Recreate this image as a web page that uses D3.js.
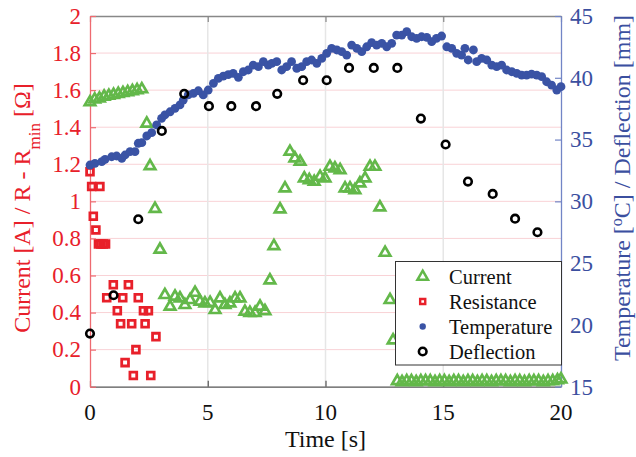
<!DOCTYPE html>
<html>
<head>
<meta charset="utf-8">
<script src="https://cdn.jsdelivr.net/npm/d3@7"></script>
<style>body{margin:0}</style>
</head>
<body>
<svg id="chart" width="636" height="457"></svg>
<script>
// ---- Data ----------------------------------------------------------------
const currentTime = [0.00, 0.20, 0.40, 0.60, 0.80, 1.00, 1.20, 1.40, 1.60, 1.80, 2.00, 2.20,
  2.41, 2.55, 2.76, 2.97, 3.18, 3.40, 3.61, 3.82, 4.03, 4.25, 4.46, 4.67, 4.88, 5.10,
  5.31, 5.52, 5.73, 5.94, 6.16, 6.37, 6.58, 6.79, 7.01, 7.22, 7.43, 7.64, 7.81, 8.07,
  8.28, 8.49, 8.70, 8.92, 9.10, 9.31, 9.52, 9.77, 9.98, 10.19, 10.40, 10.62, 10.83,
  11.04, 11.25, 11.46, 11.68, 11.89, 12.10, 12.31, 12.53, 12.74, 12.87,
  13.05, 13.25, 13.45, 13.65, 13.85, 14.05, 14.25, 14.45, 14.65, 14.85, 15.05, 15.25,
  15.45, 15.65, 15.85, 16.05, 16.25, 16.45, 16.65, 16.85, 17.05, 17.25, 17.45, 17.65,
  17.85, 18.05, 18.25, 18.45, 18.65, 18.85, 19.05, 19.25, 19.45, 19.65, 19.85, 20.00];
const currentValue = [1.535, 1.55, 1.555, 1.565, 1.57, 1.575, 1.58, 1.585, 1.59, 1.595, 1.60, 1.605,
  1.42, 1.19, 0.96, 0.74, 0.495, 0.432, 0.486, 0.477, 0.441, 0.468, 0.507, 0.459, 0.450, 0.453,
  0.414, 0.477, 0.441, 0.450, 0.477, 0.477, 0.405, 0.399, 0.399, 0.432, 0.408, 0.574, 0.759, 0.957,
  1.070, 1.268, 1.232, 1.214, 1.124, 1.115, 1.106, 1.133, 1.124, 1.187, 1.178, 1.169, 1.070,
  1.070, 1.061, 1.097, 1.124, 1.187, 1.187, 0.968, 0.723, 0.468, 0.25,
  0.03, 0.025, 0.03, 0.03, 0.025, 0.03, 0.03, 0.03, 0.025, 0.03, 0.03, 0.025,
  0.03, 0.03, 0.025, 0.03, 0.03, 0.025, 0.03, 0.03, 0.025, 0.03, 0.03, 0.03,
  0.025, 0.03, 0.03, 0.025, 0.03, 0.03, 0.03, 0.025, 0.03, 0.03, 0.035, 0.04];

const resistanceTime = [0.00, 0.07, 0.42, 0.14, 0.25, 0.36, 0.46, 0.56, 0.66, 0.99, 1.63,
  0.71, 1.39, 2.05, 1.16, 2.27, 2.48, 1.30, 1.77, 2.34, 2.80, 1.95, 1.49, 1.84, 2.58];
const resistanceValue = [1.16, 1.08, 1.08, 0.92, 0.845, 0.77, 0.77, 0.77, 0.77, 0.55, 0.55,
  0.48, 0.48, 0.48, 0.41, 0.41, 0.41, 0.34, 0.34, 0.34, 0.27, 0.20, 0.13, 0.06, 0.06];

const temperatureTime = [0.00, 0.21, 0.50, 0.64, 0.92, 1.13, 1.35, 1.49, 1.70, 1.91, 2.05, 2.20,
  2.41, 2.62, 2.83, 3.04, 3.18, 3.40, 3.61, 3.82, 3.96, 4.17, 4.39, 4.60, 4.81, 5.02,
  5.24, 5.45, 5.66, 5.87, 6.08, 6.30, 6.51, 6.72, 6.93, 7.15, 7.36, 7.57, 7.72, 7.93,
  8.14, 8.35, 8.56, 8.78, 8.99, 9.20, 9.41, 9.63, 9.84, 10.05, 10.26, 10.48, 10.69,
  10.90, 11.11, 11.33, 11.54, 11.75, 11.96, 12.17, 12.39, 12.60, 12.81, 13.02, 13.24,
  13.45, 13.66, 13.87, 14.08, 14.30, 14.51, 14.71, 14.93, 15.15, 15.36, 15.57, 15.78,
  15.92, 16.06, 16.28, 16.42, 16.63, 16.85, 17.06, 17.27, 17.48, 17.69, 17.91, 18.12,
  18.33, 18.54, 18.75, 18.97, 19.18, 19.39, 19.60, 19.82, 20.00];
const temperatureValue = [32.94, 33.08, 33.21, 33.40, 33.61, 33.67, 33.48, 33.75, 34.02, 34.02, 34.70, 34.75,
  35.29, 35.56, 36.18, 36.72, 36.99, 37.25, 37.53, 37.80, 38.20, 38.61, 38.74, 38.95, 38.61, 39.01,
  39.55, 39.96, 40.14, 40.25, 40.36, 40.04, 40.49, 40.63, 41.03, 40.90, 41.30, 41.03, 41.17, 41.30,
  40.63, 40.90, 41.30, 40.77, 40.90, 41.30, 41.44, 41.17, 41.57, 41.98, 42.38, 42.25, 42.11,
  41.84, 42.65, 42.38, 42.11, 42.51, 42.84, 42.65, 42.79, 42.51, 42.79, 43.46, 43.46,
  43.73, 43.32, 43.19, 43.32, 43.27, 42.92, 43.19, 43.38, 42.51, 42.38, 41.98, 41.84,
  42.38, 41.44, 42.25, 41.30, 41.57, 41.44, 41.03, 40.90, 41.03, 40.63, 40.49, 40.36,
  40.22, 40.22, 40.30, 40.22, 40.09, 39.68, 39.41, 39.01, 39.28];

const deflectionTime = [0.00, 1.00, 2.05, 3.05, 4.00, 5.05, 6.00, 7.05, 7.95, 9.05,
  10.05, 11.00, 12.05, 13.05, 14.05, 15.10, 16.05, 17.10, 18.05, 19.00];
const deflectionValue = [19.3, 22.4, 28.55, 35.7, 38.7, 37.7, 37.7, 37.7, 38.7, 39.8,
  39.8, 40.8, 40.8, 40.8, 36.7, 34.6, 31.6, 30.6, 28.6, 27.5];

const timeTicks = [0, 5, 10, 15, 20];
const leftTicks = [0, 0.2, 0.4, 0.6, 0.8, 1, 1.2, 1.4, 1.6, 1.8, 2];
const leftTickLabels = ["0", "0.2", "0.4", "0.6", "0.8", "1", "1.2", "1.4", "1.6", "1.8", "2"];
const rightTicks = [15, 20, 25, 30, 35, 40, 45];
const seriesNames = ["Current", "Resistance", "Temperature", "Deflection"];

// ---- Layout & colours ----------------------------------------------------
const plot = { left: 90, right: 561, top: 16, bottom: 386.7 };
const FONT = '"Liberation Serif", Tinos, serif';
const col = {
  red: "#e8202a", redAxis: "#ee6a70", pink: "#f9d2d6",
  blue: "#3b4f9f", blueAxis: "#7285c6", dot: "#3a53a5",
  green: "#63b84a", grid: "#e6e6e6"
};

const svg = d3.select("#chart");
const x = d3.scaleLinear().domain([0, 20]).range([plot.left, plot.right]);
const yL = d3.scaleLinear().domain([0, 2]).range([plot.bottom, plot.top]);
const yR = d3.scaleLinear().domain([15, 45]).range([plot.bottom, plot.top]);

// ---- Grid ----------------------------------------------------------------
svg.append("g").selectAll("line").data(leftTicks.slice(1, -1)).join("line")
  .attr("x1", plot.left).attr("x2", plot.right)
  .attr("y1", d => yL(d)).attr("y2", d => yL(d))
  .attr("stroke", col.pink).attr("stroke-width", 1);
svg.append("g").selectAll("line").data(timeTicks.slice(1, -1)).join("line")
  .attr("x1", d => x(d)).attr("x2", d => x(d))
  .attr("y1", plot.top).attr("y2", plot.bottom)
  .attr("stroke", col.grid).attr("stroke-width", 1.5);

// ---- Axes (lines and ticks only; labels drawn below) ----------------------
function styleAxis(g, lineColor) {
  g.select(".domain").attr("stroke", lineColor).attr("stroke-width", 1.3);
  g.selectAll(".tick line").attr("stroke", lineColor).attr("stroke-width", 1.2);
  g.selectAll(".tick text").remove();
}
svg.append("g").attr("transform", `translate(0,${plot.top})`)
  .call(d3.axisTop(x).tickValues(timeTicks).tickSize(-6).tickSizeOuter(0))
  .call(g => styleAxis(g, "#888"));
svg.append("g").attr("transform", `translate(0,${plot.bottom})`)
  .call(d3.axisBottom(x).tickValues(timeTicks).tickSize(-6).tickSizeOuter(0))
  .call(g => styleAxis(g, "#555"));
svg.append("g").attr("transform", `translate(${plot.left},0)`)
  .call(d3.axisLeft(yL).tickValues(leftTicks).tickSize(-6).tickSizeOuter(0))
  .call(g => styleAxis(g, col.redAxis));
svg.append("g").attr("transform", `translate(${plot.right},0)`)
  .call(d3.axisRight(yR).tickValues(rightTicks).tickSize(-6).tickSizeOuter(0))
  .call(g => styleAxis(g, col.blueAxis));

// tick labels placed from the same scales
svg.append("g").selectAll("text").data(timeTicks).join("text")
  .attr("x", d => x(d)).attr("y", 419.5).attr("text-anchor", "middle")
  .attr("font-size", 23).style("font-family", FONT).attr("fill", "#111")
  .text(d => d);
svg.append("g").selectAll("text").data(leftTicks).join("text")
  .attr("x", plot.left - 9).attr("y", d => yL(d)).attr("dy", "0.34em").attr("text-anchor", "end")
  .attr("font-size", 23).style("font-family", FONT).attr("fill", col.red)
  .text((d, i) => leftTickLabels[i]);
svg.append("g").selectAll("text").data(rightTicks).join("text")
  .attr("x", plot.right + 9).attr("y", d => yR(d)).attr("dy", "0.34em")
  .attr("font-size", 23).style("font-family", FONT).attr("fill", col.blue)
  .text(d => d);

// axis titles
svg.append("text")
  .attr("x", (plot.left + plot.right) / 2).attr("y", 447).attr("text-anchor", "middle")
  .attr("font-size", 24).style("font-family", FONT).attr("fill", "#111")
  .text("Time [s]");

const lt = svg.append("text")
  .attr("transform", "translate(30,208) rotate(-90)").attr("text-anchor", "middle")
  .attr("font-size", 24).style("font-family", FONT).attr("fill", col.red);
lt.append("tspan").text("Current [A] / R - R");
lt.append("tspan").attr("baseline-shift", "sub").attr("font-size", 17).text("min");
lt.append("tspan").text(" [Ω]");

const rt = svg.append("text")
  .attr("transform", "translate(630,188) rotate(-90)").attr("text-anchor", "middle")
  .attr("font-size", 24).style("font-family", FONT).attr("fill", col.blue);
rt.append("tspan").text("Temperature [");
rt.append("tspan").attr("baseline-shift", "super").attr("font-size", 16).text("o");
rt.append("tspan").text("C] / Deflection [mm]");

// ---- Marks ---------------------------------------------------------------
const tri = d3.symbol(d3.symbolTriangle, 48)();
const sq = d3.symbol(d3.symbolSquare, 46)();

const current = currentTime.map((t, i) => ({ t, v: currentValue[i] }));
const resistance = resistanceTime.map((t, i) => ({ t, v: resistanceValue[i] }));
const temperature = temperatureTime.map((t, i) => ({ t, v: temperatureValue[i] }));
const deflection = deflectionTime.map((t, i) => ({ t, v: deflectionValue[i] }));

svg.append("g").selectAll("path").data(current).join("path")
  .attr("d", tri)
  .attr("transform", d => `translate(${x(d.t)},${yL(d.v)})`)
  .attr("fill", "none").attr("stroke", col.green).attr("stroke-width", 2.7);

svg.append("g").selectAll("path").data(resistance).join("path")
  .attr("d", sq)
  .attr("transform", d => `translate(${x(d.t)},${yL(d.v)})`)
  .attr("fill", "none").attr("stroke", col.red).attr("stroke-width", 2.8);

svg.append("g").selectAll("circle").data(temperature).join("circle")
  .attr("cx", d => x(d.t)).attr("cy", d => yR(d.v)).attr("r", 4.4)
  .attr("fill", col.dot);

svg.append("g").selectAll("circle").data(deflection).join("circle")
  .attr("cx", d => x(d.t)).attr("cy", d => yR(d.v)).attr("r", 3.8)
  .attr("fill", "none").attr("stroke", "#000").attr("stroke-width", 2.6);

// ---- Legend --------------------------------------------------------------
const lg = svg.append("g");
lg.append("rect").attr("x", 395.5).attr("y", 261.5).attr("width", 166).attr("height", 103.5)
  .attr("fill", "#fff").attr("stroke", "#333").attr("stroke-width", 1);
const rowY = [276.8, 301.5, 326.5, 351.5];
const mx = 422.7;
lg.append("path").attr("d", tri).attr("transform", `translate(${mx},${rowY[0]})`)
  .attr("fill", "none").attr("stroke", col.green).attr("stroke-width", 2.5);
lg.append("path").attr("d", d3.symbol(d3.symbolSquare, 26)()).attr("transform", `translate(${mx},${rowY[1]})`)
  .attr("fill", "none").attr("stroke", col.red).attr("stroke-width", 2.4);
lg.append("circle").attr("cx", mx).attr("cy", rowY[2]).attr("r", 3.2).attr("fill", col.dot);
lg.append("circle").attr("cx", mx).attr("cy", rowY[3]).attr("r", 3.8)
  .attr("fill", "none").attr("stroke", "#000").attr("stroke-width", 2.6);
lg.selectAll("text").data(seriesNames).join("text")
  .attr("x", 449).attr("y", (d, i) => rowY[i] + 7.3)
  .attr("font-size", 20.5).style("font-family", FONT).attr("fill", "#111")
  .text(d => d);
</script>
</body>
</html>
